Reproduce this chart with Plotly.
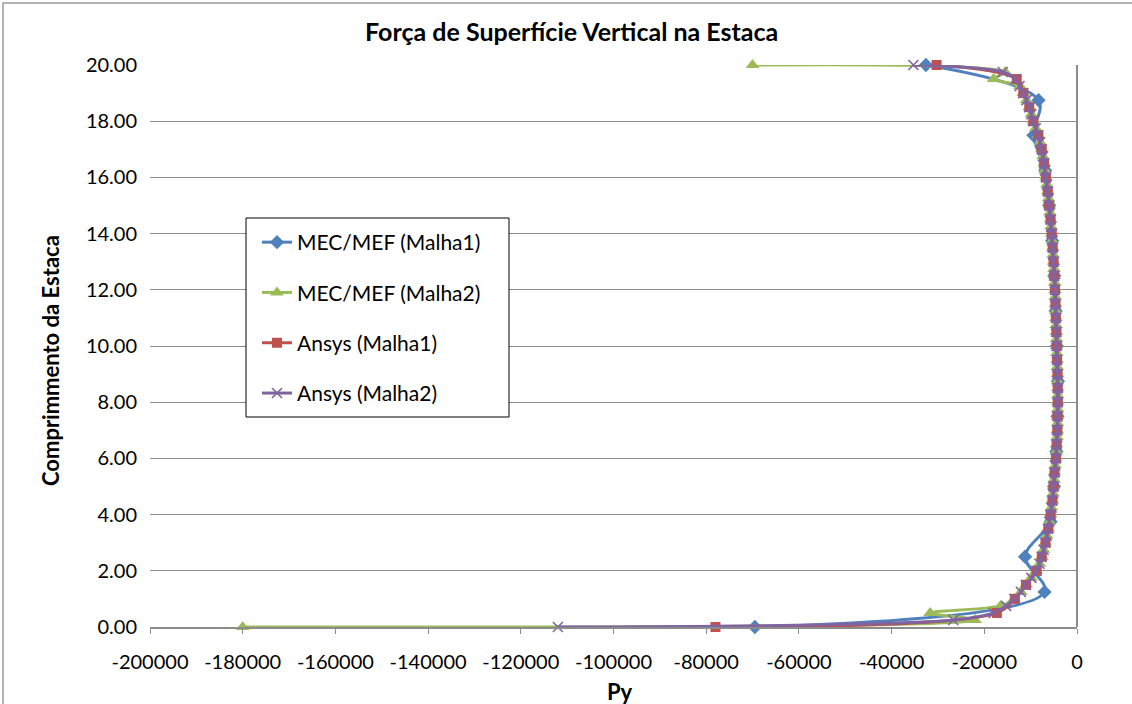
import plotly.graph_objects as go

# Nodal positions along the pile (m)
z_malha1_mec = [0.0, 1.25, 2.5, 3.75, 5.0, 6.25, 7.5, 8.75, 10.0, 11.25, 12.5, 13.75,
                15.0, 16.25, 17.5, 18.75, 20.0]
z_malha1_ansys = [0.0, 0.5, 1.0, 1.5, 2.0, 2.5, 3.0, 3.5, 4.0, 4.5, 5.0, 5.5, 6.0, 6.5,
                  7.0, 7.5, 8.0, 8.5, 9.0, 9.5, 10.0, 10.5, 11.0, 11.5, 12.0, 12.5, 13.0,
                  13.5, 14.0, 14.5, 15.0, 15.5, 16.0, 16.5, 17.0, 17.5, 18.0, 18.5, 19.0,
                  19.5, 20.0]
z_malha2 = [0.0, 0.25, 0.5, 0.75, 1.0, 1.25, 1.5, 1.75, 2.0, 2.25, 2.5, 2.75, 3.0, 3.25,
            3.5, 3.75, 4.0, 4.25, 4.5, 4.75, 5.0, 5.25, 5.5, 5.75, 6.0, 6.25, 6.5, 6.75,
            7.0, 7.25, 7.5, 7.75, 8.0, 8.25, 8.5, 8.75, 9.0, 9.25, 9.5, 9.75, 10.0, 10.25,
            10.5, 10.75, 11.0, 11.25, 11.5, 11.75, 12.0, 12.25, 12.5, 12.75, 13.0, 13.25,
            13.5, 13.75, 14.0, 14.25, 14.5, 14.75, 15.0, 15.25, 15.5, 15.75, 16.0, 16.25,
            16.5, 16.75, 17.0, 17.25, 17.5, 17.75, 18.0, 18.25, 18.5, 18.75, 19.0, 19.25,
            19.5, 19.75, 20.0]

# Vertical surface force Py
py_mec_malha1 = [-69500, -7000, -11200, -5700, -4950, -4450, -4200, -4100, -4350, -4600,
                 -4900, -5350, -6000, -6850, -9400, -8300, -32600]

py_mec_malha2 = [-180000, -22000, -31700, -16500, -13600, -12100, -11000, -9900, -8800,
                 -8100, -7600, -7200, -6850, -6500, -6200, -5950, -5700, -5500, -5300,
                 -5150, -5050, -4950, -4850, -4700, -4550, -4450, -4400, -4300, -4250,
                 -4200, -4200, -4150, -4150, -4150, -4150, -4200, -4200, -4250, -4300,
                 -4350, -4400, -4400, -4450, -4500, -4550, -4600, -4650, -4700, -4750,
                 -4800, -4900, -4950, -5050, -5150, -5250, -5350, -5450, -5600, -5700,
                 -5850, -6000, -6150, -6300, -6500, -6700, -6900, -7100, -7350, -7600,
                 -7950, -8350, -8900, -9400, -9850, -10300, -10900, -11600, -12300,
                 -18000, -15500, -70000]

py_ansys_malha1 = [-78000, -17300, -13400, -11000, -8700, -7600, -6800, -6200, -5700,
                   -5300, -5050, -4850, -4550, -4400, -4250, -4200, -4150, -4150, -4200,
                   -4300, -4380, -4450, -4550, -4650, -4750, -4900, -5050, -5250, -5450,
                   -5700, -6000, -6300, -6700, -7100, -7600, -8350, -9430, -10300, -11600,
                   -13000, -30300]

py_ansys_malha2 = [-112000, -26700, -18000, -15300, -13500, -12100, -11000, -9850, -8750,
                   -8100, -7600, -7200, -6800, -6500, -6200, -5950, -5700, -5500, -5300,
                   -5150, -5050, -4950, -4850, -4700, -4550, -4450, -4400, -4300, -4250,
                   -4200, -4200, -4150, -4150, -4150, -4150, -4200, -4200, -4250, -4300,
                   -4350, -4380, -4400, -4450, -4500, -4550, -4600, -4650, -4700, -4750,
                   -4800, -4900, -4950, -5050, -5150, -5250, -5350, -5450, -5600, -5700,
                   -5850, -6000, -6150, -6300, -6500, -6700, -6900, -7100, -7350, -7600,
                   -7950, -8350, -8900, -9430, -9850, -10300, -10900, -11600, -12400,
                   -13300, -16000, -35300]

x_tick_vals = [-200000, -180000, -160000, -140000, -120000, -100000, -80000, -60000,
               -40000, -20000, 0]
x_tick_text = ["-200000", "-180000", "-160000", "-140000", "-120000", "-100000",
               "-80000", "-60000", "-40000", "-20000", "0"]
y_tick_vals = [0, 2, 4, 6, 8, 10, 12, 14, 16, 18, 20]

FONT = "Lato"
GRID = "#8c8c8c"

# plot area in pixels: x 150..1077, y 65..627
L, R, T, B = 150, 1077, 65, 627


def px_x(px):
    return (px - L) / (R - L)


def px_y(py):
    return (B - py) / (B - T)


series = [
    ("MEC/MEF (Malha1)", z_malha1_mec, py_mec_malha1, "#4F81BD", "diamond", 11),
    ("MEC/MEF (Malha2)", z_malha2, py_mec_malha2, "#9BBB59", "triangle-up", 12),
    ("Ansys (Malha1)", z_malha1_ansys, py_ansys_malha1, "#C0504D", "square", 10),
    ("Ansys (Malha2)", z_malha2, py_ansys_malha2, "#8064A2", "x-thin-open", 10),
]

fig = go.Figure()
for i, (name, z, py, color, symbol, msize) in enumerate(series):
    marker = dict(symbol=symbol, size=msize, color=color)
    if symbol == "x-thin-open":
        marker["line"] = dict(color=color, width=1.6)
    fig.add_trace(go.Scatter(
        x=py, y=z, name=name, mode="lines+markers",
        line=dict(color=color, width=3, shape="spline", smoothing=1.0),
        marker=marker, legendgroup=f"g{i}", cliponaxis=False,
    ))

fig.update_layout(
    width=1132, height=704,
    margin=dict(l=L, r=1132 - R, t=T, b=704 - B),
    paper_bgcolor="white", plot_bgcolor="white",
    font=dict(family=FONT, color="#000000", size=20),
    title=dict(text="<b>Força de Superfície Vertical na Estaca</b>",
               xref="container", x=0.505, xanchor="center",
               yref="container", y=1 - 32 / 704, yanchor="middle",
               font=dict(family=FONT, size=25, color="#000000")),
    showlegend=True,
    legend=dict(x=px_x(257), y=px_y(222), xanchor="left", yanchor="top",
                bgcolor="rgba(0,0,0,0)", borderwidth=0,
                font=dict(family=FONT, size=21, color="#000000"),
                tracegroupgap=20, itemwidth=30),
    xaxis=dict(range=[-200000, 0], tickvals=x_tick_vals, ticktext=x_tick_text,
               showgrid=False, zeroline=False, showline=True, linecolor=GRID,
               linewidth=1.5, ticks="outside", ticklen=5, tickcolor=GRID,
               tickwidth=1, ticklabelstandoff=11,
               tickfont=dict(family=FONT, size=20, color="#000000")),
    yaxis=dict(range=[0, 20], tickvals=y_tick_vals, tickformat=".2f",
               showgrid=True, gridcolor=GRID, gridwidth=1, zeroline=False,
               showline=False, ticks="", ticklabelstandoff=12,
               tickfont=dict(family=FONT, size=20, color="#000000")),
    annotations=[
        dict(text="<b>Comprimmento da Estaca</b>", xref="paper", yref="paper",
             x=px_x(50), y=px_y(361), textangle=-90,
             showarrow=False, xanchor="center", yanchor="middle",
             font=dict(family=FONT, size=22, color="#000000")),
        dict(text="<b>Py</b>", xref="paper", yref="paper",
             x=px_x(620), y=px_y(691),
             showarrow=False, xanchor="center", yanchor="middle",
             font=dict(family=FONT, size=22, color="#000000")),
    ],
    shapes=[
        # value axis crossing at Py = 0
        dict(type="line", xref="paper", yref="paper", x0=1, x1=1, y0=0, y1=1,
             line=dict(color=GRID, width=2)),
        # chart area frame
        dict(type="rect", xref="paper", yref="paper",
             x0=px_x(3), x1=px_x(1200), y0=px_y(800), y1=px_y(3),
             line=dict(color="#9a9a9a", width=1.5), layer="below"),
        # legend frame
        dict(type="rect", xref="paper", yref="paper",
             x0=px_x(246), x1=px_x(509), y0=px_y(417), y1=px_y(218),
             fillcolor="white", line=dict(color="#000000", width=1),
             layer="above"),
    ],
)

fig.write_html("out.html")
